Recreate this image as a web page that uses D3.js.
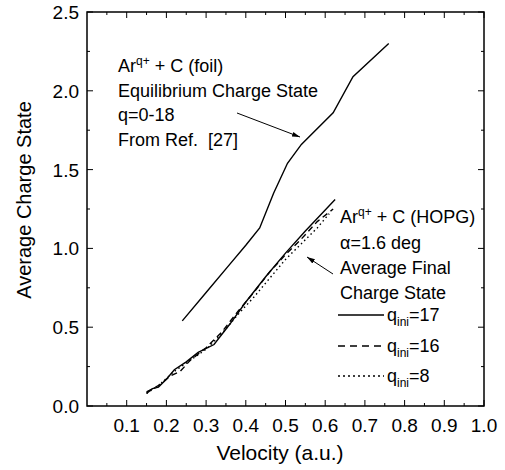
<!DOCTYPE html>
<html>
<head>
<script src="https://cdn.jsdelivr.net/npm/d3@7"></script>
<style>
body { margin: 0; background: #fff; }
svg { font-family: "Liberation Sans", Arial, sans-serif; }
</style>
</head>
<body>
<div id="chart"></div>
<script>
// foil, equilibrium charge state (Ref. 27)
var foilV = [0.24, 0.30, 0.36, 0.40, 0.435, 0.47, 0.505, 0.54, 0.62, 0.67, 0.76];
var foilQ = [0.54, 0.72, 0.90, 1.02, 1.13, 1.35, 1.54, 1.66, 1.86, 2.09, 2.30];

// HOPG, average final charge state
var q17V = [0.15, 0.165, 0.18, 0.20, 0.22, 0.25, 0.28, 0.32, 0.36, 0.40, 0.45, 0.50, 0.55, 0.625];
var q17Q = [0.08, 0.11, 0.12, 0.17, 0.23, 0.28, 0.34, 0.39, 0.52, 0.66, 0.82, 0.97, 1.11, 1.31];
var q16V = [0.15, 0.18, 0.21, 0.235, 0.26, 0.30, 0.34, 0.38, 0.42, 0.46, 0.50, 0.54, 0.58, 0.62];
var q16Q = [0.09, 0.13, 0.19, 0.22, 0.29, 0.37, 0.47, 0.60, 0.72, 0.85, 0.96, 1.06, 1.17, 1.25];
var q8V = [0.15, 0.18, 0.22, 0.26, 0.30, 0.34, 0.38, 0.42, 0.46, 0.50, 0.54, 0.58, 0.61];
var q8Q = [0.08, 0.13, 0.22, 0.29, 0.36, 0.46, 0.58, 0.69, 0.81, 0.93, 1.03, 1.13, 1.22];

var xTicks = [0.1, 0.2, 0.3, 0.4, 0.5, 0.6, 0.7, 0.8, 0.9, 1.0];
var yTicks = [0.0, 0.5, 1.0, 1.5, 2.0, 2.5];

var W = 505, H = 470;
var pl = 87, pr = 484, pt = 12, pb = 406;

var svg = d3.select("#chart").append("svg")
    .attr("width", W)
    .attr("height", H);

var x = d3.scaleLinear().domain([0, 1]).range([pl, pr]);
var y = d3.scaleLinear().domain([0, 2.5]).range([pb, pt]);

function zip(a, b) { return a.map(function(v, i) { return [v, b[i]]; }); }

var line = d3.line().x(function(d) { return x(d[0]); }).y(function(d) { return y(d[1]); });

// frame
svg.append("rect")
    .attr("x", pl).attr("y", pt)
    .attr("width", pr - pl).attr("height", pb - pt)
    .attr("fill", "none").attr("stroke", "#000").attr("stroke-width", 1.5);

// ticks, inward on all four sides
var xMinor = d3.range(0.05, 1.0, 0.1);
var yMinor = d3.range(0.25, 2.5, 0.5);
function xt(vals, len) {
    vals.forEach(function(v) {
        svg.append("line").attr("x1", x(v)).attr("x2", x(v)).attr("y1", pb).attr("y2", pb - len).attr("stroke", "#000");
        svg.append("line").attr("x1", x(v)).attr("x2", x(v)).attr("y1", pt).attr("y2", pt + len).attr("stroke", "#000");
    });
}
function yt(vals, len) {
    vals.forEach(function(v) {
        svg.append("line").attr("y1", y(v)).attr("y2", y(v)).attr("x1", pl).attr("x2", pl + len).attr("stroke", "#000");
        svg.append("line").attr("y1", y(v)).attr("y2", y(v)).attr("x1", pr).attr("x2", pr - len).attr("stroke", "#000");
    });
}
xt(xTicks, 6); xt(xMinor, 3);
yt(yTicks, 6); yt(yMinor, 3);

svg.selectAll(".xl").data(xTicks).enter().append("text")
    .attr("x", function(d) { return x(d); })
    .attr("y", 432)
    .attr("text-anchor", "middle")
    .attr("font-size", 19)
    .text(function(d) { return d.toFixed(1); });

svg.selectAll(".yl").data(yTicks).enter().append("text")
    .attr("x", 79)
    .attr("y", function(d) { return y(d) + 7; })
    .attr("text-anchor", "end")
    .attr("font-size", 19)
    .text(function(d) { return d.toFixed(1); });

svg.append("text")
    .attr("x", 280).attr("y", 460)
    .attr("text-anchor", "middle").attr("font-size", 21)
    .text("Velocity (a.u.)");

svg.append("text")
    .attr("transform", "translate(31,200) rotate(-90)")
    .attr("text-anchor", "middle").attr("font-size", 20)
    .text("Average Charge State");

// curves
svg.append("path").attr("d", line(zip(foilV, foilQ)))
    .attr("fill", "none").attr("stroke", "#000").attr("stroke-width", 1.4);
svg.append("path").attr("d", line(zip(q17V, q17Q)))
    .attr("fill", "none").attr("stroke", "#000").attr("stroke-width", 1.4);
svg.append("path").attr("d", line(zip(q16V, q16Q)))
    .attr("fill", "none").attr("stroke", "#000").attr("stroke-width", 1.4).attr("stroke-dasharray", "6,4");
svg.append("path").attr("d", line(zip(q8V, q8Q)))
    .attr("fill", "none").attr("stroke", "#000").attr("stroke-width", 1.4).attr("stroke-dasharray", "1.5,3");

// arrows
svg.append("defs").append("marker")
    .attr("id", "ah").attr("viewBox", "0 0 10 10")
    .attr("refX", 10).attr("refY", 5)
    .attr("markerWidth", 8).attr("markerHeight", 8)
    .attr("orient", "auto")
    .append("path").attr("d", "M0,2 L10,5 L0,8 Z").attr("fill", "#000");

svg.append("line").attr("x1", 237).attr("y1", 113).attr("x2", 300).attr("y2", 137)
    .attr("stroke", "#000").attr("stroke-width", 1).attr("marker-end", "url(#ah)");
svg.append("line").attr("x1", 333).attr("y1", 274).attr("x2", 307).attr("y2", 257)
    .attr("stroke", "#000").attr("stroke-width", 1).attr("marker-end", "url(#ah)");

// annotation text
var fs = 18;
function supText(tx, ty, base, sup, rest) {
    var t = svg.append("text").attr("x", tx).attr("y", ty).attr("font-size", fs);
    t.append("tspan").text(base);
    t.append("tspan").attr("dy", -7).attr("font-size", 12).text(sup);
    t.append("tspan").attr("dy", 7).text(rest);
}
function plain(tx, ty, s) {
    svg.append("text").attr("x", tx).attr("y", ty).attr("font-size", fs).text(s);
}
supText(118, 72, "Ar", "q+", " + C (foil)");
plain(118, 97, "Equilibrium Charge State");
plain(118, 121, "q=0-18");
plain(118, 146, "From Ref.\u00a0 [27]");

supText(340, 223, "Ar", "q+", " + C (HOPG)");
plain(340, 249, "\u03b1=1.6 deg");
plain(340, 274, "Average Final");
plain(340, 299, "Charge State");

// legend
var legItems = [
    { label: "17", y: 315, dash: null },
    { label: "16", y: 346, dash: "7,5" },
    { label: "8", y: 376, dash: "2,3" }
];
legItems.forEach(function(d) {
    svg.append("line").attr("x1", 338).attr("x2", 384).attr("y1", d.y).attr("y2", d.y)
        .attr("stroke", "#000").attr("stroke-width", 1.4).attr("stroke-dasharray", d.dash);
    var t = svg.append("text").attr("x", 387).attr("y", d.y + 6).attr("font-size", fs);
    t.append("tspan").text("q");
    t.append("tspan").attr("dy", 5).attr("font-size", 12).text("ini");
    t.append("tspan").attr("dy", -5).text("=" + d.label);
});
</script>
</body>
</html>
